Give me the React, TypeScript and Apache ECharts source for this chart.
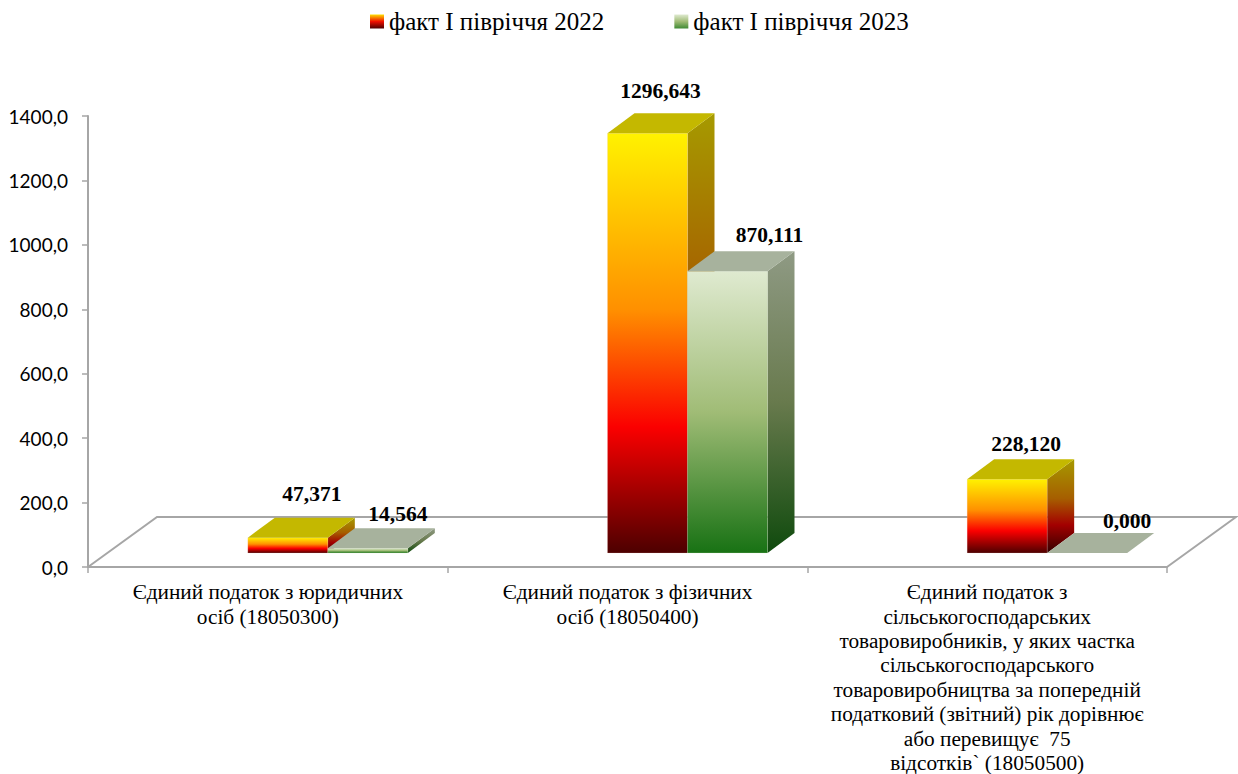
import React, { useEffect, useRef } from "react";
import * as echarts from "echarts";

const categories = [
  "Єдиний податок з юридичних\nосіб (18050300)",
  "Єдиний податок з фізичних\nосіб (18050400)",
  "Єдиний податок з\nсільськогосподарських\nтоваровиробників, у яких частка\nсільськогосподарського\nтоваровиробництва за попередній\nподатковий (звітний) рік дорівнює\nабо перевищує  75\nвідсотків` (18050500)",
];
const seriesNames = ["факт І півріччя 2022", "факт І півріччя 2023"];
const values2022 = [47.371, 1296.643, 228.12];
const values2023 = [14.564, 870.111, 0];
const labels2022 = ["47,371", "1296,643", "228,120"];
const labels2023 = ["14,564", "870,111", "0,000"];

// label placement relative to the bar's front-top centre (dx, dy in px)
const labelNudge2022 = [[24, -44], [13, -42], [19, -35]];
const labelNudge2023 = [[30, -34], [42, -36], [40, -32]];

const SERIF = '"Liberation Serif", "Times New Roman", serif';
const AXIS_COLOR = "#a6a6a6";
const DEPTH_X = 27;
const DEPTH_Y = 20;
const BASE_LIFT = 14;
const BAR_RATIO = 80 / 359.67;
const CENTER_SHIFT = 60 / 359.67;
const FRONT_SCALE = 1.005;

const vgrad = (stops: [number, string][]) => ({
  type: "linear", x: 0, y: 0, x2: 0, y2: 1,
  colorStops: stops.map(([offset, color]) => ({ offset, color })),
});

const palette = [
  {
    front: [[0, "#fff200"], [0.42, "#ff9000"], [0.7, "#fb0000"], [1, "#4d0000"]] as [number, string][],
    side: [[0, "#a69a00"], [0.42, "#a65e00"], [0.7, "#a30000"], [1, "#320000"]] as [number, string][],
    top: "#c4b800",
    edge: "rgba(240,200,190,0.2)",
    legend: [[0, "#ffe000"], [0.5, "#f01000"], [1, "#4d0000"]] as [number, string][],
  },
  {
    front: [[0, "#dfead0"], [0.5, "#a0bc76"], [1, "#187214"]] as [number, string][],
    side: [[0, "#8f9a84"], [0.5, "#687a4d"], [1, "#0f4a0d"]] as [number, string][],
    top: "#a7b29d",
    edge: "rgba(215,230,200,0.25)",
    legend: [[0, "#dfead0"], [0.5, "#a0bc76"], [1, "#3f8a34"]] as [number, string][],
  },
];

function makeRender(seriesIdx: number, labels: string[], nudges: number[][]) {
  const pal = palette[seriesIdx];
  return (params: any, api: any) => {
    const cat = api.value(0);
    const val = api.value(1);
    const zero = api.coord([cat, 0]);
    const tip = api.coord([cat, val]);
    const catW = api.size([1, 0])[0];
    const w = catW * BAR_RATIO;
    const center = zero[0] + catW * CENTER_SHIFT;
    const x0 = seriesIdx === 0 ? center - w : center;
    const x1 = x0 + w;
    const yBase = zero[1] - BASE_LIFT;
    const yTop = yBase - (zero[1] - tip[1]) * FRONT_SCALE;
    const poly = (points: number[][], fill: any, stroke?: string) => ({
      type: "polygon",
      shape: { points },
      style: { fill, stroke: stroke || "none", lineWidth: stroke ? 1 : 0 },
    });
    const children: any[] = [];
    if (val > 0) {
      children.push(
        poly(
          [[x1, yTop], [x1 + DEPTH_X, yTop - DEPTH_Y], [x1 + DEPTH_X, yBase - DEPTH_Y], [x1, yBase]],
          vgrad(pal.side)
        ),
        poly([[x0, yTop], [x1, yTop], [x1, yBase], [x0, yBase]], vgrad(pal.front), pal.edge)
      );
    }
    children.push(
      poly(
        [[x0, yTop], [x0 + DEPTH_X, yTop - DEPTH_Y], [x1 + DEPTH_X, yTop - DEPTH_Y], [x1, yTop]],
        pal.top
      )
    );
    const n = nudges[params.dataIndex];
    children.push({
      type: "text",
      style: {
        text: labels[params.dataIndex],
        x: (x0 + x1) / 2 + n[0],
        y: yTop + n[1],
        textAlign: "center",
        textVerticalAlign: "middle",
        font: `bold 21.5px ${SERIF}`,
        fill: "#000",
      },
    });
    return { type: "group", children };
  };
}

export default function App() {
  const ref = useRef<HTMLDivElement>(null);
  useEffect(() => {
    document.body.style.margin = "0";
    const chart = echarts.init(ref.current!, null, { renderer: "svg" });
    const mkData = (vals: number[]) => vals.map((v, i) => [i, v]);
    chart.setOption({
      animation: false,
      backgroundColor: "#fff",
      legend: {
        left: 365,
        top: 4,
        icon: "rect",
        itemWidth: 14,
        itemHeight: 14,
        itemGap: 70,
        textStyle: { fontFamily: SERIF, fontSize: 25, color: "#000" },
        data: seriesNames,
      },
      grid: { left: 88, right: 71, top: 116, bottom: 207, containLabel: false, outerBoundsMode: "none" },
      xAxis: {
        type: "category",
        data: categories,
        axisLine: { lineStyle: { color: AXIS_COLOR, width: 2 } },
        axisTick: { show: true, length: 6, alignWithLabel: false, lineStyle: { color: AXIS_COLOR, width: 1.5 } },
        axisLabel: {
          interval: 0,
          margin: 13,
          fontFamily: SERIF,
          fontSize: 21.3,
          lineHeight: 24.4,
          color: "#000",
          align: "center",
        },
        splitLine: { show: false },
      },
      yAxis: {
        type: "value",
        min: 0,
        max: 1400,
        interval: 200,
        axisLine: { show: true, lineStyle: { color: AXIS_COLOR, width: 2 } },
        axisTick: { show: true, length: 6, lineStyle: { color: AXIS_COLOR, width: 1.5 } },
        axisLabel: {
          margin: 20,
          fontFamily: "Lato",
          fontSize: 19,
          color: "#000",
          formatter: (v: number) => v.toFixed(1).replace(".", ","),
        },
        splitLine: { show: false },
      },
      graphic: [
        {
          type: "polyline",
          z: 0,
          shape: { points: [[88, 567], [157, 517], [1236, 517], [1167, 567]] },
          style: { stroke: AXIS_COLOR, lineWidth: 2, fill: "none" },
        },
      ],
      series: [
        {
          name: seriesNames[0],
          type: "custom",
          coordinateSystem: "cartesian2d",
          encode: { x: 0, y: 1 },
          data: mkData(values2022),
          itemStyle: { color: vgrad(palette[0].legend) },
          renderItem: makeRender(0, labels2022, labelNudge2022),
          z: 3,
        },
        {
          name: seriesNames[1],
          type: "custom",
          coordinateSystem: "cartesian2d",
          encode: { x: 0, y: 1 },
          data: mkData(values2023),
          itemStyle: { color: vgrad(palette[1].legend) },
          renderItem: makeRender(1, labels2023, labelNudge2023),
          z: 4,
        },
      ],
    });
    return () => chart.dispose();
  }, []);
  return <div ref={ref} style={{ width: 1238, height: 774 }} />;
}
